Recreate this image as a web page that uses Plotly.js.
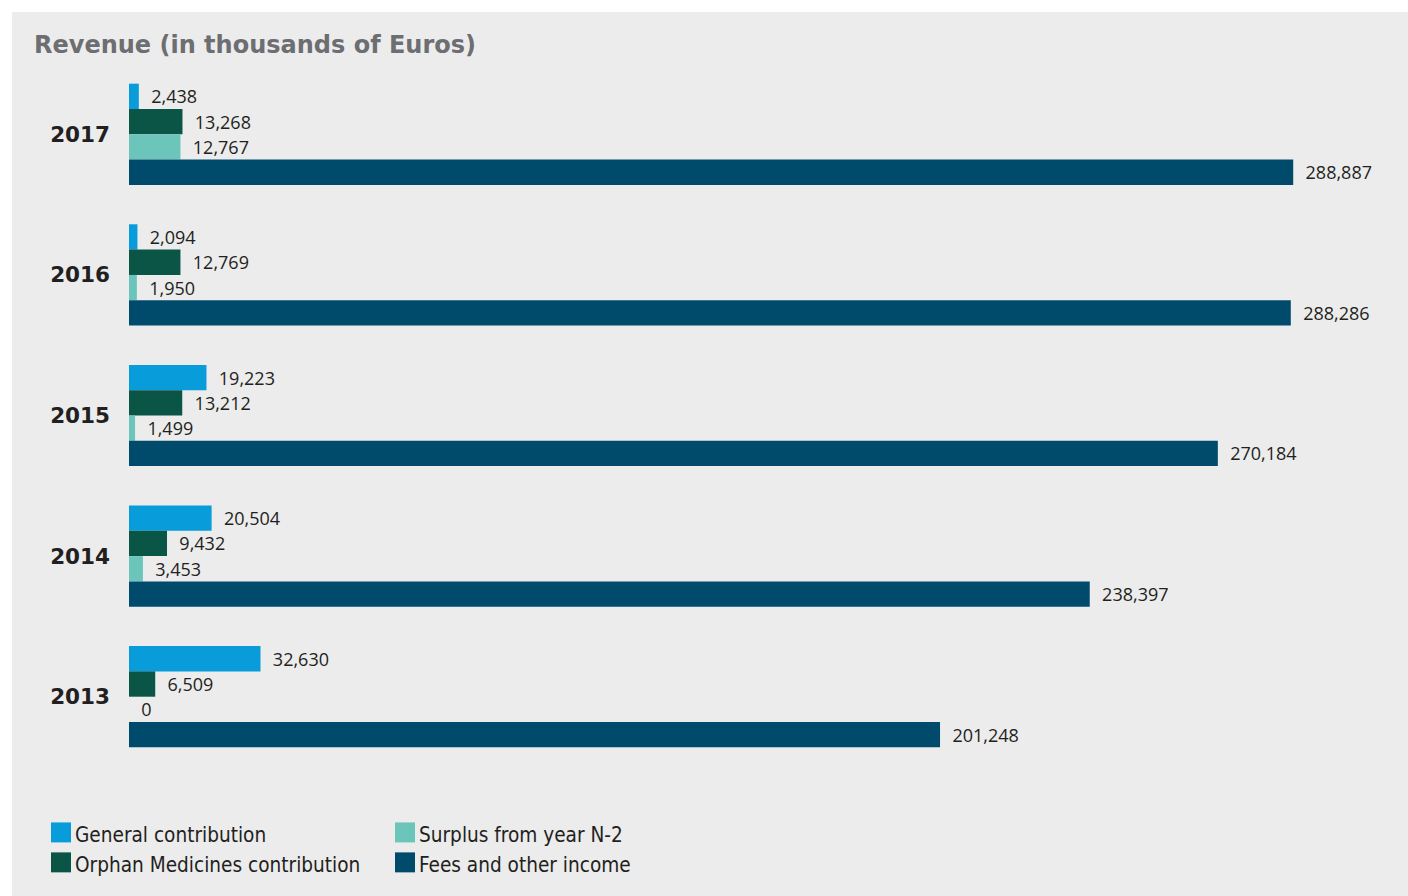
<!DOCTYPE html>
<html>
<head>
<meta charset="utf-8">
<script src="https://cdn.plot.ly/plotly-3.0.1.min.js"></script>
<style>
html,body{margin:0;padding:0;background:#ffffff;}
#chart{position:absolute;left:12px;top:12px;width:1396px;height:884px;}
</style>
</head>
<body>
<div id="chart"></div>
<script>
// ---- data ----
const years = ['2017', '2016', '2015', '2014', '2013'];
const generalContribution = [2438, 2094, 19223, 20504, 32630];
const orphanContribution = [13268, 12769, 13212, 9432, 6509];
const surplusN2 = [12767, 1950, 1499, 3453, 0];
const feesOther = [288887, 288286, 270184, 238397, 201248];
const seriesNames = ['General contribution', 'Orphan Medicines contribution', 'Surplus from year N-2', 'Fees and other income'];
const seriesColors = ['#089cda', '#0b5547', '#6cc5bb', '#004b6c'];
const titleText = 'Revenue (in thousands of Euros)';

const seriesValues = [generalContribution, orphanContribution, surplusN2, feesOther];

const W = 1396, H = 884;
const M = {l: 117, r: 28, t: 51.5, b: 128.5};
const PW = W - M.l - M.r, PH = H - M.t - M.b;
const px2x = p => (p - M.l) / PW;
const py2y = p => (H - M.b - p) / PH;

const labelFont = {family: 'Open Sans, sans-serif', size: 18, color: '#231f20'};

const traces = seriesValues.map((vals, i) => ({
  type: 'bar',
  orientation: 'h',
  name: seriesNames[i],
  y: years,
  x: vals,
  marker: {color: seriesColors[i], line: {width: 0}},
  text: vals.map(v => '\u00A0\u00A0' + v.toLocaleString('en-US')),
  textposition: 'outside',
  cliponaxis: false,
  textfont: labelFont,
  hoverinfo: 'x+name'
}));

// legend drawn as shapes + annotations (two columns)
const legendPos = [
  {x: 39, y: 811}, // General (div coords)
  {x: 39, y: 841}, // Orphan
  {x: 383, y: 811}, // Surplus
  {x: 383, y: 841}  // Fees
];
const shapes = [];
const annotations = [];
seriesNames.forEach((name, i) => {
  const p = legendPos[i];
  shapes.push({
    type: 'rect', xref: 'paper', yref: 'paper',
    x0: px2x(p.x), x1: px2x(p.x + 20), y0: py2y(p.y + 20), y1: py2y(p.y),
    fillcolor: seriesColors[i], line: {width: 0}
  });
  annotations.push({
    xref: 'paper', yref: 'paper', x: px2x(p.x + 22), y: py2y(p.y + 13),
    xanchor: 'left', yanchor: 'middle', showarrow: false,
    text: name,
    font: {family: 'DejaVu Sans Condensed, DejaVu Sans, sans-serif', size: 20.6, color: '#231f20'}
  });
});

const layout = {
  width: W, height: H,
  paper_bgcolor: '#ececec',
  plot_bgcolor: '#ececec',
  margin: M,
  barmode: 'group',
  bargap: 0.28,
  bargroupgap: 0,
  showlegend: false,
  title: {
    text: titleText,
    xref: 'container', yref: 'container',
    x: 22 / W, xanchor: 'left',
    y: 1 - 33 / H, yanchor: 'middle',
    font: {family: 'DejaVu Sans, sans-serif', size: 24, weight: 'bold', color: '#6d6e71'}
  },
  xaxis: {
    range: [0, PW / 0.00403],
    showgrid: false, zeroline: false, showline: false,
    showticklabels: false, ticks: '', fixedrange: true
  },
  yaxis: {
    type: 'category',
    categoryorder: 'array', categoryarray: years,
    autorange: 'reversed',
    showgrid: false, zeroline: false, showline: false,
    ticks: '', ticklabelstandoff: 18,
    tickfont: {family: 'DejaVu Sans, sans-serif', size: 21.5, weight: 'bold', color: '#231f20'},
    fixedrange: true
  },
  shapes: shapes,
  annotations: annotations,
  font: {family: 'Open Sans, sans-serif'}
};

Plotly.newPlot('chart', traces, layout, {displayModeBar: false, staticPlot: true});
</script>
</body>
</html>
